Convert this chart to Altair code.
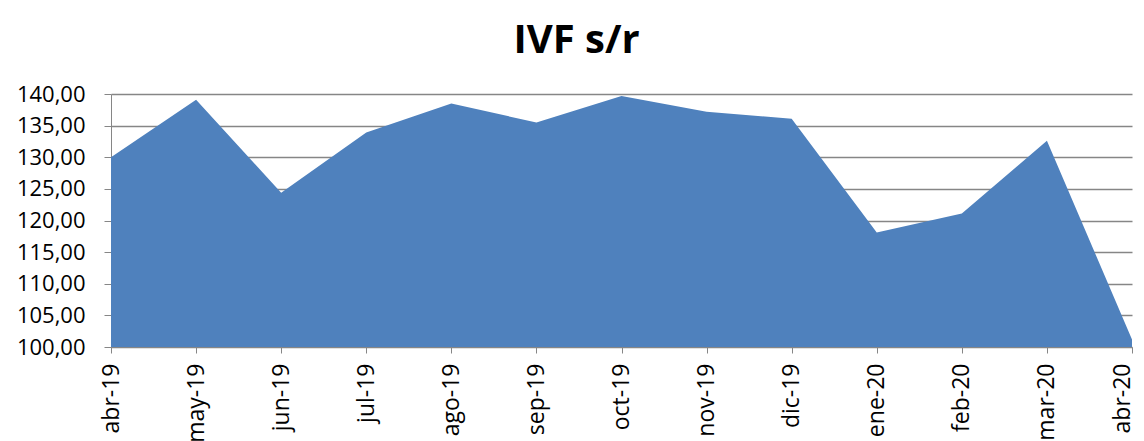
import altair as alt
import pandas as pd

months = ["abr-19", "may-19", "jun-19", "jul-19", "ago-19", "sep-19", "oct-19",
          "nov-19", "dic-19", "ene-20", "feb-20", "mar-20", "abr-20"]
values = [130.0, 139.1, 124.4, 133.9, 138.5, 135.5, 139.7,
          137.2, 136.1, 118.1, 121.1, 132.6, 101.2]

df = pd.DataFrame({"mes": months, "ivf": values})

font = "Open Sans"

chart = alt.Chart(df).mark_area(color="#4F81BD", opacity=1, clip=True).encode(
    x=alt.X("mes:N", sort=months, title=None,
            scale=alt.Scale(padding=0),
            axis=alt.Axis(labelAngle=-90, labelFontSize=23, labelFont=font,
                          labelColor="black", domainColor="#868686",
                          tickColor="#868686", tickSize=6, labelPadding=10,
                          grid=False, labelAlign="right", labelBaseline="middle",
                          labelOverlap=False, labelBound=False, labelFlush=False,
                          labelOffset={"condition": {"test": "datum.value == 'abr-20'",
                                                     "value": -10},
                                       "value": 0})),
    y=alt.Y("ivf:Q", title=None,
            scale=alt.Scale(domain=[100, 140], nice=False, zero=False),
            axis=alt.Axis(values=list(range(100, 141, 5)),
                          labelExpr="replace(format(datum.value, '.2f'), '.', ',')",
                          labelFontSize=22, labelFont=font, labelColor="black",
                          domainColor="#868686", tickColor="#868686", tickSize=7,
                          gridColor="#868686", gridWidth=1.5, labelPadding=19,
                          labelOverlap=False)),
).properties(
    width=1021, height=253,
    title=alt.TitleParams("IVF s/r", fontSize=40, font=font, fontWeight="bold",
                          color="black", anchor="middle", dx=-45, offset=22),
    autosize=alt.AutoSizeParams(type="none"),
    padding={"left": 103, "top": 86, "right": 4, "bottom": 100},
).configure_view(stroke=None)

chart.save("out.html", embed_options={"renderer": "svg", "actions": False})
